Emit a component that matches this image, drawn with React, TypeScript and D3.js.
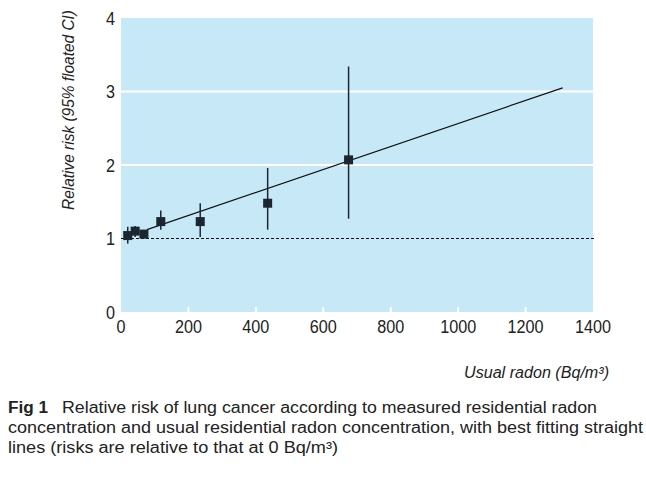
import React from "react";
import * as d3 from "d3";

const radon = [20, 42, 68, 118, 235, 435, 675];
const rr = [1.04, 1.1, 1.06, 1.23, 1.23, 1.48, 2.07];
const ciLow = [0.93, 1.02, 1.0, 1.12, 1.02, 1.12, 1.27];
const ciHigh = [1.16, 1.17, 1.1, 1.38, 1.48, 1.96, 3.34];
const fitX = [77, 1310];
const fitY = [1.12, 3.05];
const xTicks = [0, 200, 400, 600, 800, 1000, 1200, 1400];
const yTicks = [0, 1, 2, 3, 4];
const gridWhite = [2, 3];
const captionLines = [
  "Relative risk of lung cancer according to measured residential radon",
  "concentration and usual residential radon concentration, with best fitting straight",
  "lines (risks are relative to that at 0 Bq/m³)",
];
const xTitle = "Usual radon (Bq/m³)";
const yTitle = "Relative risk (95% floated CI)";

const FONT = "'Liberation Sans', Arial, sans-serif";
const INK = "#222";

export default function App() {
  const W = 646, H = 477;
  const x = d3.scaleLinear().domain([0, 1400]).range([121, 593]);
  const y = d3.scaleLinear().domain([0, 4]).range([312, 18]);
  const line = d3.line<number>().x((d, i) => x(fitX[i])).y((d, i) => y(fitY[i]));
  const s = 9;
  const dark = "#1b2631";
  const adj = "spacingAndGlyphs";
  return (
    <svg width={W} height={H} style={{ position: "absolute", left: 0, top: 0, background: "#fff" }}>
      <rect x={x(0)} y={y(4)} width={x(1400) - x(0)} height={y(0) - y(4)} fill="#c6e8f7" />
      {gridWhite.map((g) => (
        <line key={g} x1={x(0)} x2={x(1400)} y1={y(g)} y2={y(g)} stroke="#fff" strokeWidth={2} />
      ))}
      {xTicks.slice(1, -1).map((t) => (
        <line key={t} x1={x(t)} x2={x(t)} y1={y(0)} y2={y(0) - 5} stroke="#fff" strokeWidth={2} />
      ))}
      <line x1={x(0)} x2={x(1400) + 2} y1={y(1)} y2={y(1)} stroke="#111" strokeWidth={1} strokeDasharray="3,2" />
      <path d={line(fitX) || ""} fill="none" stroke="#111" strokeWidth={1.2} />
      {radon.map((r, i) => (
        <g key={i}>
          <line x1={x(r)} x2={x(r)} y1={y(ciLow[i])} y2={y(ciHigh[i])} stroke={dark} strokeWidth={1.5} />
          <rect x={x(r) - s / 2} y={y(rr[i]) - s / 2} width={s} height={s} fill={dark} />
        </g>
      ))}
      {yTicks.map((t) => (
        <text key={t} x={x(0) - 6} y={y(t) + 6.5} textAnchor="end" fontFamily={FONT} fontSize={18} fill={INK}
          textLength={String(t).length * 9} lengthAdjust={adj}>
          {t}
        </text>
      ))}
      {xTicks.map((t) => (
        <text key={t} x={x(t) - (String(t).length * 9) / 2} y={333} fontFamily={FONT} fontSize={18} fill={INK}
          textLength={String(t).length * 9} lengthAdjust={adj}>
          {t}
        </text>
      ))}
      <text
        transform={`translate(74, 110) rotate(-90)`}
        x={-100}
        fontFamily={FONT}
        fontStyle="italic"
        fontSize={16}
        fill={INK}
        textLength={200}
        lengthAdjust={adj}
      >
        {yTitle}
      </text>
      <text x={464} y={378} fontFamily={FONT} fontStyle="italic" fontSize={16} fill={INK}
        textLength={145} lengthAdjust={adj}>
        {xTitle}
      </text>
      <text x={8} y={413} fontFamily={FONT} fontWeight="bold" fontSize={16} fill={INK} textLength={40} lengthAdjust={adj}>
        Fig 1
      </text>
      <text x={62} y={413} fontFamily={FONT} fontSize={16} fill={INK} textLength={535} lengthAdjust={adj}>
        {captionLines[0]}
      </text>
      <text x={8} y={433} fontFamily={FONT} fontSize={16} fill={INK} textLength={635} lengthAdjust={adj}>
        {captionLines[1]}
      </text>
      <text x={8} y={453} fontFamily={FONT} fontSize={16} fill={INK} textLength={330} lengthAdjust={adj}>
        {captionLines[2]}
      </text>
    </svg>
  );
}
